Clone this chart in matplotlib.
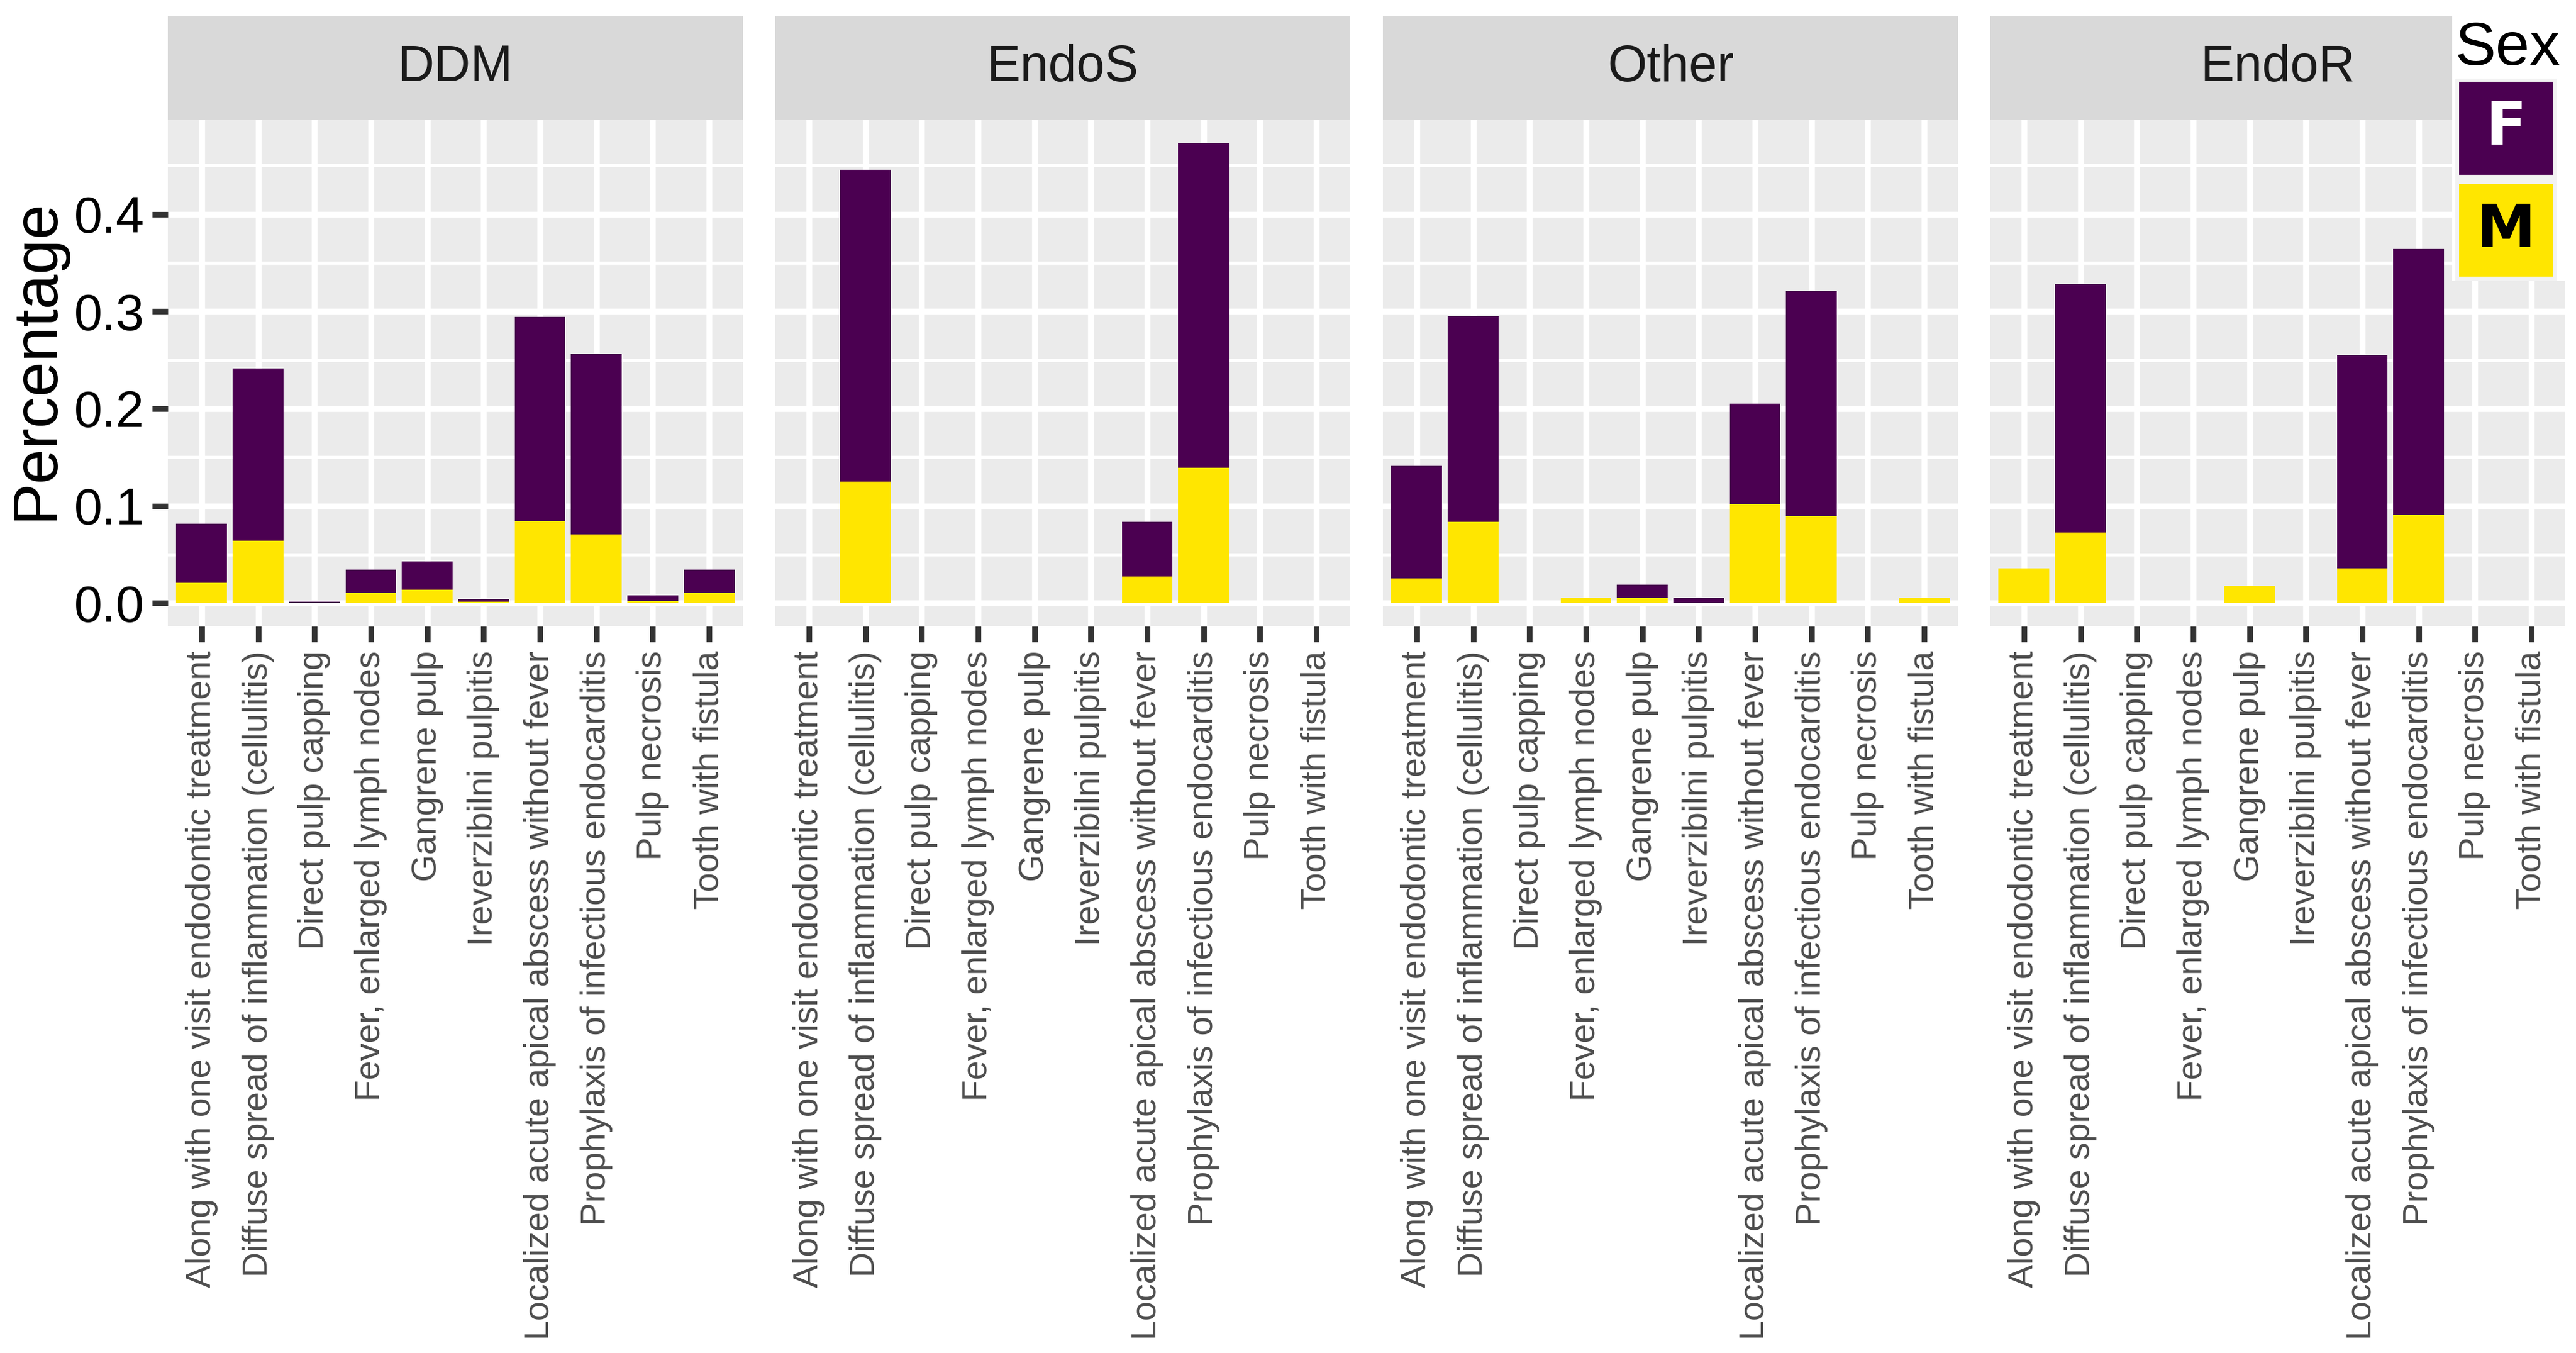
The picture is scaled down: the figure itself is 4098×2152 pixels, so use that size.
import matplotlib
matplotlib.use("Agg")
import matplotlib.pyplot as plt
from matplotlib.patches import Rectangle
import numpy as np

# categories (x axis, same for all facets)
categories = [
    "Along with one visit endodontic treatment",
    "Diffuse spread of inflammation (cellulitis)",
    "Direct pulp capping",
    "Fever, enlarged lymph nodes",
    "Gangrene pulp",
    "Ireverzibilni pulpitis",
    "Localized acute apical abscess without fever",
    "Prophylaxis of infectious endocarditis",
    "Pulp necrosis",
    "Tooth with fistula",
]
facets = ["DDM", "EndoS", "Other", "EndoR"]

# stacked pieces, bottom to top: M, then F records (f1, f2)
ddm_m = [0.021, 0.0644, 0, 0.0106, 0.0139, 0.0015, 0.0843, 0.0706, 0.0023, 0.0106]
ddm_f1 = [0.030, 0.177, 0.0015, 0.024, 0.029, 0.0029, 0.1063, 0.1853, 0.0055, 0.024]
ddm_f2 = [0.0304, 0, 0, 0, 0, 0, 0.1037, 0, 0, 0]

endos_m = [0, 0.1248, 0, 0, 0, 0, 0.0276, 0.1392, 0, 0]
endos_f1 = [0, 0.3205, 0, 0, 0, 0, 0.0277, 0.3338, 0, 0]
endos_f2 = [0, 0, 0, 0, 0, 0, 0.0281, 0, 0, 0]

other_m = [0.0255, 0.0834, 0, 0.0057, 0.0057, 0, 0.102, 0.0896, 0, 0.0057]
other_f1 = [0.1154, 0.2118, 0, 0, 0.0132, 0.0057, 0.1034, 0.2312, 0, 0]
other_f2 = [0, 0, 0, 0, 0, 0, 0, 0, 0, 0]

endor_m = [0.0355, 0.0726, 0, 0, 0.0176, 0, 0.0359, 0.0909, 0, 0]
endor_f1 = [0, 0.2553, 0, 0, 0, 0, 0.1096, 0.2734, 0, 0]
endor_f2 = [0, 0, 0, 0, 0, 0, 0.1095, 0, 0, 0]

series = {
    "DDM": (ddm_m, ddm_f1, ddm_f2),
    "EndoS": (endos_m, endos_f1, endos_f2),
    "Other": (other_m, other_f1, other_f2),
    "EndoR": (endor_m, endor_f1, endor_f2),
}

col_f = "#4B0051"
col_m = "#FFE600"

plt.rcParams["font.family"] = ["Liberation Sans", "DejaVu Sans"]

W, H = 4098, 2152
fig = plt.figure(figsize=(W / 200, H / 200), dpi=200)

# y range like ggplot (5% expansion)
tops = [np.array(m) + np.array(a) + np.array(b) for m, a, b in series.values()]
ymax = max(t.max() for t in tops)
ylo, yhi = -0.05 * ymax, ymax * 1.05

panel_left = [267, 1233, 2200, 3166]
panel_w = 915
panel_top, panel_bot = 191, 996
strip_top = 25.5

x = np.arange(1, len(categories) + 1)

for i, name in enumerate(facets):
    m, f1, f2 = [np.array(v) for v in series[name]]
    ax = fig.add_axes([panel_left[i] / W, 1 - panel_bot / H,
                       panel_w / W, (panel_bot - panel_top) / H])
    ax.set_facecolor("#EBEBEB")
    ax.set_axisbelow(True)
    ax.bar(x, m, width=0.9, color=col_m, linewidth=0)
    ax.bar(x, f1, width=0.9, bottom=m, color=col_f, linewidth=0)
    ax.bar(x, f2, width=0.9, bottom=m + f1, color=col_f, linewidth=0)

    ax.set_xlim(0.4, len(categories) + 0.6)
    ax.set_ylim(ylo, yhi)
    ax.set_yticks([0.0, 0.1, 0.2, 0.3, 0.4])
    ax.set_yticks([0.05, 0.15, 0.25, 0.35, 0.45], minor=True)
    ax.set_xticks(x)
    ax.grid(which="major", color="white", linewidth=3.4)
    ax.grid(which="minor", axis="y", color="white", linewidth=1.8)
    for s in ax.spines.values():
        s.set_visible(False)

    ax.tick_params(axis="both", which="major", length=9, width=3.2,
                   color="#333333")
    ax.tick_params(axis="y", which="minor", length=0)
    ax.tick_params(axis="x", pad=5)
    ax.set_xticklabels(categories, rotation=90, ha="right", va="center",
                       rotation_mode="anchor", fontsize=20,
                       color="#4D4D4D")
    if i == 0:
        ax.set_yticklabels(["0.0", "0.1", "0.2", "0.3", "0.4"],
                           fontsize=29, color="black")
        ax.tick_params(axis="y", pad=4.5)
    else:
        ax.tick_params(axis="y", which="both", length=0, labelleft=False)

    # facet strip
    st = fig.add_axes([panel_left[i] / W, 1 - panel_top / H,
                       panel_w / W, (panel_top - strip_top) / H])
    st.set_facecolor("#D9D9D9")
    st.set_xticks([])
    st.set_yticks([])
    for s in st.spines.values():
        s.set_visible(False)
    st.text(0.5, 0.5, name, ha="center", va="center", fontsize=29,
            color="#1A1A1A", transform=st.transAxes)

fig.text(58 / W, 1 - 571 / H, "Percentage", rotation=90, ha="center",
         va="center", fontsize=36, color="black")

# legend drawn on top-right, like ggplot's inside legend
lg = fig.add_axes([0, 0, 1, 1], zorder=10)
lg.set_xlim(0, W)
lg.set_ylim(H, 0)
lg.axis("off")
lg.patch.set_alpha(0)
lg.add_patch(Rectangle((3901, 0), W - 3901, 447, color="white", lw=0))
lg.add_patch(Rectangle((3906, 125), 161, 322, color="#F2F2F2", lw=0))
lg.add_patch(Rectangle((3912, 130), 149, 148, color=col_f, lw=0))
lg.add_patch(Rectangle((3912, 293), 149, 147, color=col_m, lw=0))
lg.text(3906, 103, "Sex", ha="left", va="baseline", fontsize=35, color="black")
lg.text(3986.5, 204, "F", ha="center", va="center", fontsize=34,
        fontweight="heavy", color="white", family=["DejaVu Sans"])
lg.text(3986.5, 367, "M", ha="center", va="center", fontsize=34,
        fontweight="heavy", color="black", family=["DejaVu Sans"])

fig.savefig("out.png", dpi=200, facecolor="white")
